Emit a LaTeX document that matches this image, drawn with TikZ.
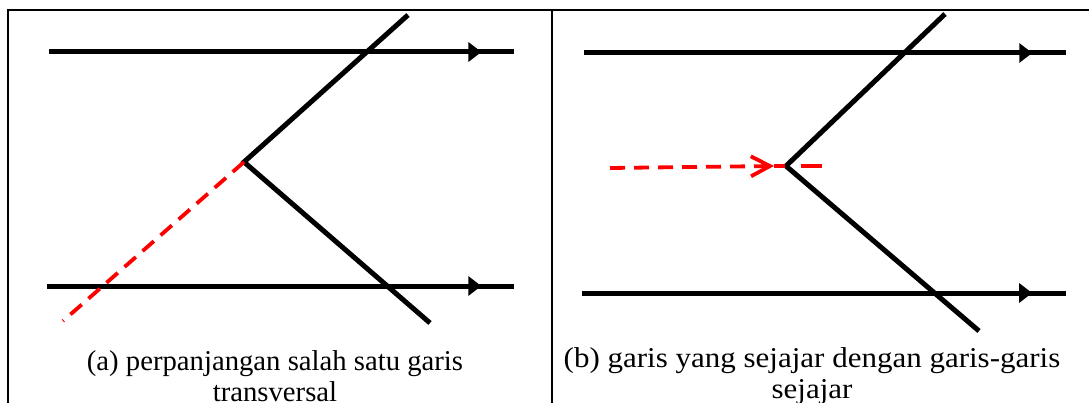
\documentclass[tikz,border=0pt]{standalone}
\usepackage{fontspec}
\setmainfont{Liberation Serif}
\usetikzlibrary{arrows.meta, decorations.markings}

\begin{document}
\begin{tikzpicture}[x=1pt, y=-1pt,
  frame/.style={line width=2.5pt},
  parline/.style={line width=5pt, postaction={decorate},
    decoration={markings, mark=at position 0.93 with {\arrow{Triangle[length=13pt,width=19pt]}}}},
  transline/.style={line width=5pt, line join=miter},
  reddash/.style={red, line width=3.8pt, dash pattern=on 15pt off 9pt},
  every node/.style={font=\fontsize{28.7}{31}\selectfont, align=center, inner sep=0pt}]
\useasboundingbox (0,0) rectangle (1089,403);
% frame of the table
\draw[frame] (8,403) -- (8,10) -- (1089,10);
\draw[frame] (552,10) -- (552,403);

% (a) extension of one transversal
\coordinate (aTopL) at (49,52);
\coordinate (aTopR) at (514,52);
\coordinate (aBotL) at (47,286);
\coordinate (aBotR) at (514,286);
\coordinate (aUp) at (408,15);
\coordinate (aV) at (244,162);
\coordinate (aDown) at (430,323);
\coordinate (aExt) at (63,321);
\draw[parline] (aTopL) -- (aTopR);
\draw[parline] (aBotL) -- (aBotR);
\draw[transline] (aUp) -- (aV) -- (aDown);
\draw[reddash] (aV) -- (aExt);
\node (capA) at (275,376) {(a) perpanjangan salah satu garis\\ transversal};

% (b) line parallel to the parallel lines
\coordinate (bTopL) at (584,53);
\coordinate (bTopR) at (1066,53);
\coordinate (bBotL) at (582,293);
\coordinate (bBotR) at (1066,293);
\coordinate (bUp) at (945,14);
\coordinate (bV) at (786,166);
\coordinate (bDown) at (979,331);
\coordinate (bStart) at (610,168);
\coordinate (bTip) at (774,166);
\coordinate (bEnd) at (822,166);
\draw[parline] (bTopL) -- (bTopR);
\draw[parline] (bBotL) -- (bBotR);
\draw[transline] (bUp) -- (bV) -- (bDown);
\draw[reddash, -{Straight Barb[length=19pt,width=20pt]}] (bStart) -- (bTip);
\draw[reddash, dash pattern=on 11pt off 16pt on 21pt] (bTip) -- (bEnd);
\node[xscale=1.08, transform shape] (capB) at (812,376) {(b) garis yang sejajar dengan garis-garis\\ sejajar};
\end{tikzpicture}
\end{document}
